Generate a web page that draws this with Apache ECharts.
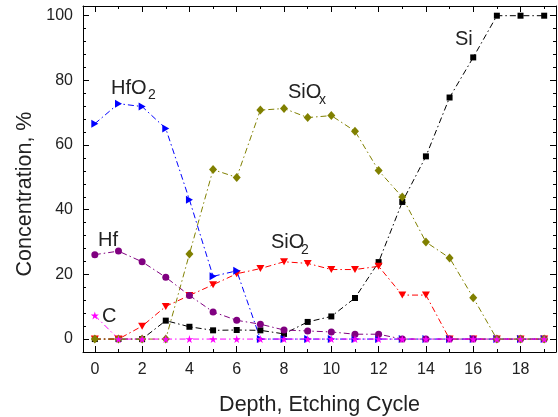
<!DOCTYPE html>
<html><head><meta charset="utf-8">
<script src="https://cdn.jsdelivr.net/npm/echarts@6/dist/echarts.min.js"></script>
<style>html,body{margin:0;padding:0;background:#fff}#c{width:558px;height:417px}</style>
</head><body><div id="c"></div>
<script>
const depth = [0,1,2,3,4,5,6,7,8,9,10,11,12,13,14,15,16,17,18,19];
const si    = [0,0,0,5.7,3.8,2.7,2.8,2.7,1.6,5.3,7.0,12.7,23.8,42.4,56.5,74.7,87.1,100,100,100];
const hfo2  = [66.6,72.8,71.9,65.1,43.1,19.4,21.1,0,0,0,0,0,0,0,0,0,0,0,0,0];
const siox  = [0,0,0,0,26.3,52.4,50.0,70.8,71.3,68.5,69.1,64.3,52.1,43.9,30.0,25.1,12.8,0,0,0];
const sio2  = [0,0,4.0,10.1,13.5,16.8,20.2,21.8,23.9,23.4,21.5,21.5,22.5,13.6,13.6,0,0,0,0,0];
const hf    = [26.1,27.2,23.9,19.1,13.5,8.4,5.8,4.6,2.8,2.5,2.2,1.5,1.5,0,0,0,0,0,0,0];
const carb  = [7.3,0,0,0,0,0,0,0,0,0,0,0,0,0,0,0,0,0,0,0];
const xMajor = [0,2,4,6,8,10,12,14,16,18];
const xMinor = [1,3,5,7,9,11,13,15,17,19];
const yMajor = [0,20,40,60,80,100];
const yMinor = [4,8,12,16,24,28,32,36,44,48,52,56,64,68,72,76,84,88,92,96];

const FONT = "'Liberation Sans', Arial, sans-serif";
const pair = arr => depth.map((d,i)=>[d,arr[i]]);
const dash = [6,3,1.5,3];
const star = 'path://M50,0 L61,35 L98,35 L68,57 L79,91 L50,70 L21,91 L32,57 L2,35 L39,35 Z';
const rtri = 'path://M0,0 L10,5 L0,10 Z';
const dtri = 'path://M0,0 L10,0 L5,9 Z';

function xa(pos, values, len, showLine, showLabel){
  return {type:'value', min:-0.5, max:19.5, position:pos,
    axisLine:{show:showLine, onZero:false, lineStyle:{color:'#000', width:1}},
    axisTick:{show:true, inside:true, length:len, customValues:values, lineStyle:{color:'#000', width:1}},
    axisLabel:{show:showLabel, customValues:values, fontSize:16, margin:10, color:'#222', fontFamily:FONT},
    splitLine:{show:false}, minorTick:{show:false}};
}
function ya(pos, values, len, showLine, showLabel){
  return {type:'value', min:-4, max:103, position:pos,
    axisLine:{show:showLine, onZero:false, lineStyle:{color:'#000', width:1}},
    axisTick:{show:true, inside:true, length:len, customValues:values, lineStyle:{color:'#000', width:1}},
    axisLabel:{show:showLabel, customValues:values, fontSize:16, margin:10, color:'#222', fontFamily:FONT},
    splitLine:{show:false}, minorTick:{show:false}};
}
function ser(name, data, color, symbol, size){
  return {name, type:'line', data:pair(data), xAxisIndex:0, yAxisIndex:0,
    symbol, symbolSize:size, showAllSymbol:true,
    lineStyle:{color, width:1, type:dash}, itemStyle:{color, borderWidth:0}, animation:false};
}
const chart = echarts.init(document.getElementById('c'));
chart.setOption({
  animation:false,
  grid:{left:83, right:2, top:6, bottom:65, containLabel:false, outerBoundsMode:'none'},
  xAxis:[
    Object.assign(xa('bottom', xMajor, 6, true, true), {name:'Depth, Etching Cycle', nameLocation:'middle', nameGap:42, nameTextStyle:{fontSize:21.5, color:'#222', fontFamily:FONT}}),
    xa('bottom', xMinor, 3, false, false),
    xa('top', xMajor, 6, true, false),
    xa('top', xMinor, 3, false, false)
  ],
  yAxis:[
    ya('left', yMajor, 6, true, true),
    ya('left', yMinor, 3, false, false),
    ya('right', yMajor, 6, true, false),
    ya('right', yMinor, 3, false, false)
  ],
  series:[
    ser('Si', si, '#000000', 'rect', 6),
    ser('SiO2', sio2, '#ff0000', dtri, [8,7]),
    ser('HfO2', hfo2, '#0000ff', rtri, [7,8]),
    ser('Hf', hf, '#800080', 'circle', 7),
    ser('SiOx', siox, '#808000', 'diamond', [8,9]),
    ser('C', carb, '#ff00ff', star, 8)
  ],
  graphic:[
    {type:'text', x:25, y:194, rotation:Math.PI/2, style:{text:'Concentration, %', font:'21.5px '+FONT, fill:'#222', align:'center', verticalAlign:'middle'}},
    {type:'text', x:111, y:88, style:{text:'HfO', font:'20px '+FONT, fill:'#222', verticalAlign:'middle'}},
    {type:'text', x:148, y:95, style:{text:'2', font:'14px '+FONT, fill:'#222', verticalAlign:'middle'}},
    {type:'text', x:288, y:92, style:{text:'SiO', font:'20px '+FONT, fill:'#222', verticalAlign:'middle'}},
    {type:'text', x:319, y:100, style:{text:'x', font:'14px '+FONT, fill:'#222', verticalAlign:'middle'}},
    {type:'text', x:455, y:39, style:{text:'Si', font:'20px '+FONT, fill:'#222', verticalAlign:'middle'}},
    {type:'text', x:98, y:240, style:{text:'Hf', font:'20px '+FONT, fill:'#222', verticalAlign:'middle'}},
    {type:'text', x:102, y:316, style:{text:'C', font:'20px '+FONT, fill:'#222', verticalAlign:'middle'}},
    {type:'text', x:271, y:242, style:{text:'SiO', font:'20px '+FONT, fill:'#222', verticalAlign:'middle'}},
    {type:'text', x:301, y:250, style:{text:'2', font:'14px '+FONT, fill:'#222', verticalAlign:'middle'}}
  ]
});
</script></body></html>
